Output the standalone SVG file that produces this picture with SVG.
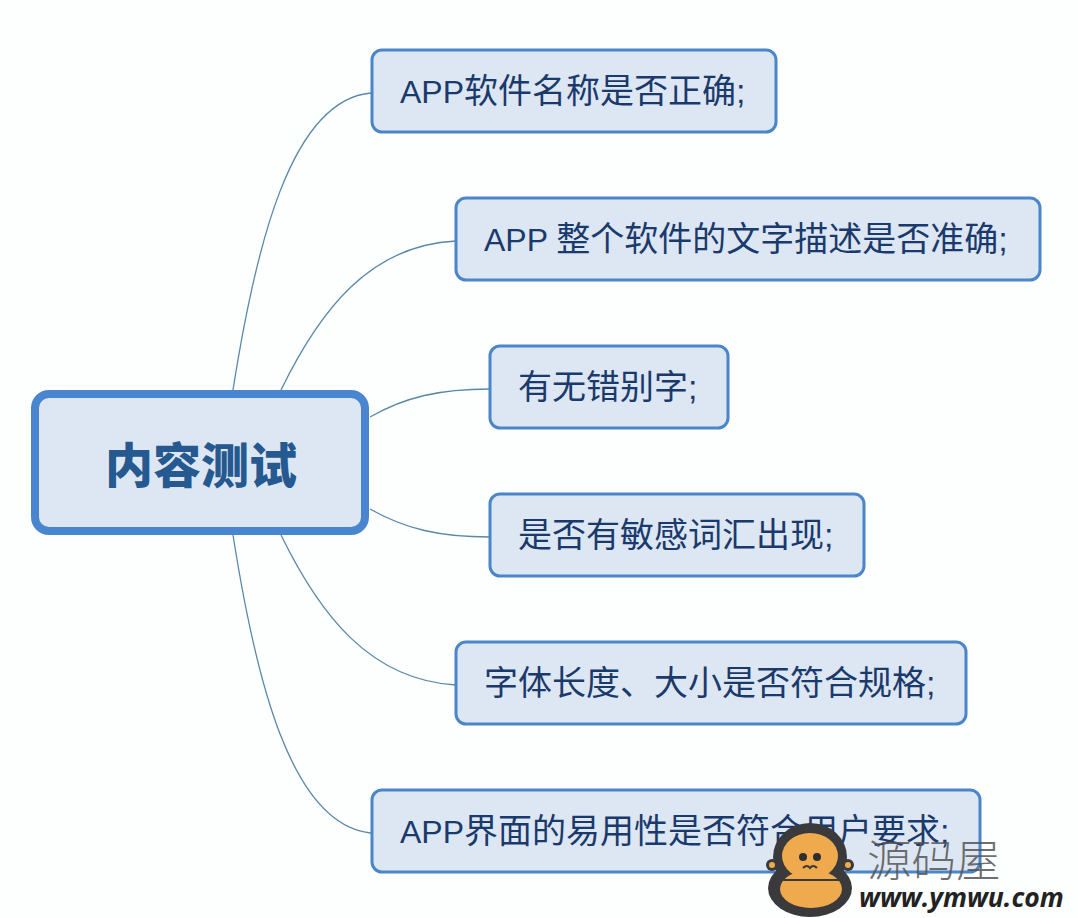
<svg xmlns="http://www.w3.org/2000/svg" width="1078" height="918" viewBox="0 0 1078 918">
<style>
.leaf rect{fill:#dde6f3;stroke:#4a86c8;stroke-width:3}
.leaf text{font-family:"Liberation Sans","Noto Sans CJK SC",sans-serif;font-size:34px;fill:#1a3a6c}
.leaf tspan{font-size:32px}
#connectors path{fill:none;stroke:#5a88a8;stroke-width:1.3}
</style>
<rect width="1078" height="918" fill="#fdfefe"/>
<g id="connectors">
<path d="M233 390C255 250 290 100 371 93"/>
<path d="M281 390C320 310 370 245 456 241"/>
<path d="M370 417C405 397 440 389 490 389"/>
<path d="M370 509C405 529 440 537 490 537"/>
<path d="M281 535C320 615 370 680 456 685"/>
<path d="M233 535C255 675 290 825 371 833"/>
</g>
<g id="root">
<rect x="35" y="394" width="330" height="137" rx="14" fill="#dde6f3" stroke="#4a86d0" stroke-width="8"/>
<text x="201" y="483" text-anchor="middle" font-family="'Noto Sans CJK SC',sans-serif" font-weight="900" font-size="48" fill="#26598f">内容测试</text>
</g>
<g id="n1" class="leaf"><rect x="372" y="50" width="404" height="82" rx="10"/><text x="400" y="103"><tspan>APP</tspan>软件名称是否正确;</text></g>
<g id="n2" class="leaf"><rect x="456" y="198" width="584" height="82" rx="10"/><text x="484" y="251"><tspan>APP </tspan>整个软件的文字描述是否准确;</text></g>
<g id="n3" class="leaf"><rect x="490" y="346" width="238" height="82" rx="10"/><text x="518" y="399">有无错别字;</text></g>
<g id="n4" class="leaf"><rect x="490" y="494" width="374" height="82" rx="10"/><text x="518" y="547">是否有敏感词汇出现;</text></g>
<g id="n5" class="leaf"><rect x="456" y="642" width="510" height="82" rx="10"/><text x="484" y="695">字体长度、大小是否符合规格;</text></g>
<g id="n6" class="leaf"><rect x="372" y="790" width="608" height="82" rx="10"/><text x="400" y="843"><tspan>APP</tspan>界面的易用性是否符合用户要求;</text></g>
<g id="watermark">
<ellipse cx="810" cy="857" rx="37" ry="34" fill="#3a3a3c"/>
<ellipse cx="810" cy="888" rx="42" ry="29" fill="#3a3a3c"/>
<circle cx="772" cy="865" r="6" fill="#3a3a3c"/><circle cx="848" cy="865" r="6" fill="#3a3a3c"/>
<circle cx="772" cy="865" r="3" fill="#eeaa4c"/><circle cx="848" cy="865" r="3" fill="#eeaa4c"/>
<ellipse cx="810" cy="856" rx="28" ry="23" fill="#eeaa4c"/>
<ellipse cx="811" cy="889" rx="31" ry="19" fill="#eeaa4c"/>
<path d="M780 880H842" stroke="#3a3a3c" stroke-width="2"/>
<circle cx="803" cy="857" r="4" fill="#2e2e2e"/><circle cx="817" cy="857" r="4" fill="#2e2e2e"/>
<path d="M803 868q4-4 7 0q3-4 7 0" fill="none" stroke="#3a3a3c" stroke-width="2"/>
<text x="867" y="877" font-family="'Noto Sans CJK SC',sans-serif" font-weight="300" font-size="44.5" fill="#555" fill-opacity=".85">源码屋</text>
<text x="859" y="907" font-family="'Open Sans','Liberation Sans',sans-serif" font-weight="700" font-style="italic" font-size="26.5" fill="#222">www.ymwu.com</text>
</g>
</svg>
